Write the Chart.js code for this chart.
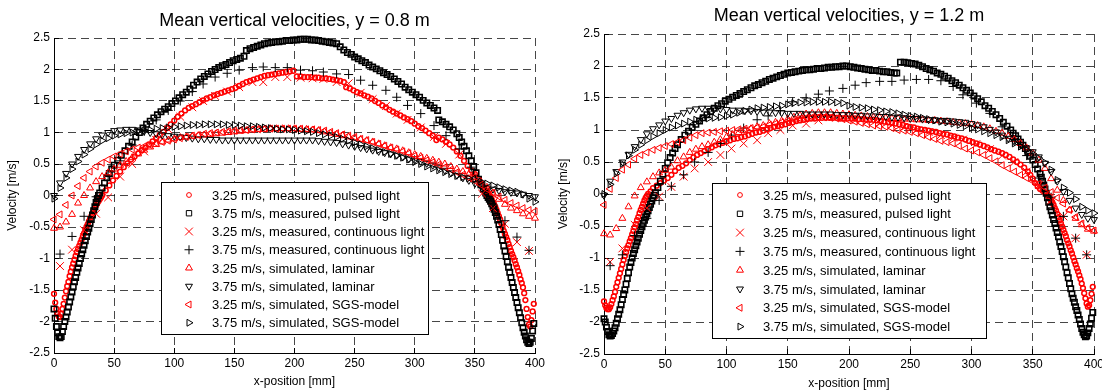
<!DOCTYPE html>
<html>
<head>
<meta charset="utf-8">
<title>Mean vertical velocities</title>
<script src="https://cdn.jsdelivr.net/npm/chart.js@4.4.1/dist/chart.umd.min.js"></script>
<style>
  html, body { margin: 0; padding: 0; background: #fff; }
  canvas { position: absolute; top: 0; }
  #left { left: 0; }
  #right { left: 550px; }
</style>
</head>
<body>
<canvas id="left" width="550" height="392"></canvas>
<canvas id="right" width="552" height="392"></canvas>
<script>
// ---- data: x-position [mm], velocity [m/s] ----

const titles = ['Mean vertical velocities, y = 0.8 m', 'Mean vertical velocities, y = 1.2 m'];
const seriesLabels = [
  '3.25 m/s, measured, pulsed light',
  '3.75 m/s, measured, pulsed light',
  '3.25 m/s, measured, continuous light',
  '3.75 m/s, measured, continuous light',
  '3.25 m/s, simulated, laminar',
  '3.75 m/s, simulated, laminar',
  '3.25 m/s, simulated, SGS-model',
  '3.75 m/s, simulated, SGS-model'
];
const xTickLabels = ['0', '50', '100', '150', '200', '250', '300', '350', '400'];
const yTickLabels = ['-2.5', '-2', '-1.5', '-1', '-0.5', '0', '0.5', '1', '1.5', '2', '2.5'];

// y = 0.8 m, pulsed light, 3.25 m/s
const pulsed325_08 = [[0,-1.56],[1,-1.7],[2,-1.8],[3,-1.88],[4,-1.92],[5,-1.93],[6,-1.88],[7,-1.8],[8,-1.72],[9,-1.62],
  [10,-1.52],[11,-1.44],[12,-1.37],[13,-1.28],[14,-1.21],[15,-1.14],[16,-1.08],[17,-1.02],[18,-0.96],[19,-0.9],
  [20,-0.85],[21,-0.8],[22,-0.75],[23,-0.7],[24,-0.65],[25,-0.6],[26,-0.55],[27,-0.5],[28,-0.46],[29,-0.41],
  [30,-0.37],[31,-0.33],[32,-0.29],[33,-0.24],[34,-0.2],[35,-0.16],[36,-0.12],[37,-0.09],[38,-0.06],[39,-0.03],[40,0],
  [43,0.08],[46,0.16],[49,0.24],[52,0.31],[55,0.38],[58,0.45],[61,0.51],[64,0.57],[67,0.62],[70,0.67],
  [73,0.72],[76,0.76],[79,0.81],[82,0.86],[85,0.91],[88,0.96],[91,1.01],[94,1.07],[97,1.13],[100,1.19],
  [103,1.25],[106,1.3],[109,1.35],[112,1.39],[115,1.42],[118,1.45],[121,1.48],[124,1.51],[127,1.54],[130,1.56],
  [133,1.59],[136,1.61],[139,1.63],[142,1.65],[145,1.67],[148,1.69],[151,1.71],[154,1.74],[157,1.77],[160,1.8],
  [163,1.82],[166,1.84],[169,1.86],[172,1.88],[175,1.9],[178,1.91],[181,1.92],[184,1.93],[187,1.94],[190,1.95],
  [193,1.96],[196,1.97],[199,1.98],[202,1.89],[205,1.89],[208,1.88],[211,1.88],[214,1.88],[217,1.87],[220,1.87],
  [223,1.86],[226,1.86],[229,1.85],[232,1.84],[235,1.83],[238,1.82],[241,1.8],[243,1.72],[246,1.7],[249,1.67],
  [252,1.64],[255,1.62],[258,1.59],[261,1.57],[264,1.54],[267,1.5],[270,1.47],[273,1.43],[276,1.4],[279,1.36],
  [282,1.33],[285,1.3],[288,1.27],[291,1.24],[294,1.21],[297,1.18],[300,1.14],[303,1.1],[306,1.07],[309,1.03],
  [312,0.99],[315,0.95],[318,0.88],[320,0.92],[323,0.89],[326,0.85],[329,0.81],[332,0.76],[335,0.7],[338,0.63],
  [341,0.55],[344,0.47],[347,0.4],[350,0.34],[353,0.26],[356,0.17],[358,0.12],[360,0.07],[361,0.04],[362,0.01],
  [363,-0.02],[364,-0.06],[365,-0.1],[366,-0.14],[367,-0.18],[368,-0.23],[369,-0.28],[370,-0.33],[371,-0.38],[372,-0.44],
  [373,-0.5],[374,-0.56],[375,-0.61],[376,-0.66],[377,-0.71],[378,-0.77],[379,-0.82],[380,-0.88],[381,-0.93],[382,-0.98],
  [383,-1.03],[384,-1.09],[385,-1.14],[386,-1.2],[387,-1.26],[388,-1.33],[389,-1.39],[390,-1.46],[391,-1.55],[392,-1.66],
  [393,-1.8],[394,-1.93],[395,-2.05],[396,-2.08],[397,-1.98],[398,-1.84],[399,-1.72]];

// y = 0.8 m, pulsed light, 3.75 m/s
const pulsed375_08 = [[0,-1.8],[1,-1.95],[2,-2.08],[3,-2.18],[4,-2.24],[5,-2.26],[6,-2.24],[7,-2.16],[8,-2.08],[9,-2],
  [10,-1.93],[11,-1.85],[12,-1.77],[13,-1.69],[14,-1.61],[15,-1.53],[16,-1.45],[17,-1.37],[18,-1.3],[19,-1.22],
  [20,-1.15],[21,-1.08],[22,-1],[23,-0.93],[24,-0.86],[25,-0.79],[26,-0.72],[27,-0.65],[28,-0.58],[29,-0.52],
  [30,-0.45],[31,-0.38],[32,-0.31],[33,-0.24],[34,-0.18],[35,-0.11],[36,-0.05],[37,0],[38,0.04],[40,0.12],
  [42,0.2],[44,0.28],[46,0.35],[48,0.42],[50,0.48],[53,0.56],[56,0.64],[59,0.71],[62,0.78],[65,0.85],
  [68,0.93],[71,1],[74,1.07],[77,1.13],[80,1.18],[83,1.23],[86,1.28],[89,1.33],[92,1.37],[95,1.41],
  [98,1.46],[101,1.5],[104,1.55],[107,1.6],[110,1.64],[113,1.69],[116,1.75],[119,1.8],[122,1.85],[125,1.89],
  [128,1.93],[131,1.97],[134,2],[137,2.03],[140,2.06],[143,2.08],[146,2.11],[149,2.14],[152,2.16],[155,2.18],
  [158,2.21],[160,2.3],[163,2.33],[166,2.35],[169,2.37],[172,2.39],[175,2.41],[178,2.42],[181,2.43],[184,2.44],
  [187,2.44],[190,2.45],[193,2.46],[196,2.46],[199,2.47],[202,2.47],[205,2.48],[208,2.48],[211,2.48],[214,2.47],
  [217,2.47],[220,2.46],[223,2.45],[226,2.44],[229,2.43],[232,2.42],[235,2.41],[238,2.36],[241,2.31],[244,2.27],
  [247,2.24],[250,2.2],[253,2.17],[256,2.14],[259,2.11],[262,2.07],[265,2.04],[268,2.01],[271,1.98],[274,1.95],
  [277,1.92],[280,1.89],[283,1.85],[286,1.81],[289,1.77],[292,1.72],[295,1.68],[298,1.64],[301,1.6],[304,1.56],
  [307,1.51],[310,1.47],[313,1.43],[316,1.39],[319,1.35],[320,1.2],[323,1.17],[326,1.13],[329,1.09],[332,1.04],
  [335,0.98],[337,0.92],[339,0.85],[341,0.78],[343,0.71],[345,0.63],[347,0.55],[349,0.46],[351,0.36],[353,0.26],
  [355,0.17],[357,0.1],[359,0.04],[360,0],[361,-0.03],[362,-0.06],[363,-0.09],[364,-0.13],[365,-0.17],[366,-0.22],
  [367,-0.27],[368,-0.33],[369,-0.39],[370,-0.46],[371,-0.54],[372,-0.62],[373,-0.71],[374,-0.8],[375,-0.88],[376,-0.97],
  [377,-1.05],[378,-1.14],[379,-1.22],[380,-1.3],[381,-1.38],[382,-1.46],[383,-1.54],[384,-1.62],[385,-1.7],[386,-1.78],
  [387,-1.86],[388,-1.94],[389,-2.02],[390,-2.1],[391,-2.17],[392,-2.23],[393,-2.29],[394,-2.33],[395,-2.35],[396,-2.33],
  [397,-2.27],[398,-2.15],[399,-2.03]];

// y = 0.8 m, continuous light (positions of the sparse markers)
const contX_08 = [5,15,25,35,45,55,65,75,85,95,105,115,124,134,144,154,165,174,184,194,
  205,215,224,235,245,255,265,276,285,294,305,316,326,337,347,356,365,375,385,395];
const cont325_08 = [-1.12,-0.86,-0.55,-0.29,-0.03,0.3,0.5,0.7,0.88,1.05,1.25,1.4,1.5,1.58,1.65,1.72,1.8,1.8,1.88,1.88,
  1.87,1.86,1.85,1.8,1.78,1.63,1.53,1.42,1.3,1.2,1.08,0.93,0.82,0.65,0.28,0.03,-0.2,-0.45,-0.74,-0.88];
const cont375_08 = [-0.93,-0.65,-0.33,-0.02,0.3,0.55,0.8,1.02,1.2,1.35,1.5,1.65,1.77,1.88,1.94,1.99,2.03,2.04,2.03,2.03,
  1.99,1.98,1.96,1.93,1.92,1.83,1.75,1.67,1.56,1.43,1.3,1.11,0.95,0.74,0.45,0.15,-0.15,-0.4,-0.66,-0.87];

// simulation output positions
const xSim = [0,5,10,15,20,25,30,35,40,45,50,55,60,65,70,75,80,85,90,95,100,105,110,115,120,125,130,135,140,145,
  150,155,160,165,170,175,180,185,190,195,200,205,210,215,220,225,230,235,240,245,250,255,260,265,270,275,280,285,290,295,
  300,305,310,315,320,325,330,335,340,345,350,355,360,365,370,375,380,385,390,395,400];

const lam325_08 = [-0.52,-0.5,-0.42,-0.3,-0.12,0,0.12,0.22,0.3,0.36,
  0.42,0.48,0.54,0.6,0.66,0.72,0.77,0.81,0.85,0.88,
  0.9,0.92,0.93,0.94,0.95,0.96,0.97,0.98,0.99,1,
  1.01,1.02,1.03,1.04,1.05,1.05,1.06,1.06,1.06,1.06,
  1.06,1.05,1.05,1.04,1.03,1.01,0.99,0.97,0.95,0.93,
  0.91,0.89,0.87,0.85,0.82,0.79,0.76,0.74,0.71,0.68,
  0.65,0.62,0.59,0.56,0.53,0.5,0.46,0.42,0.38,0.34,
  0.29,0.22,0.13,0.04,-0.06,-0.14,-0.2,-0.24,-0.29,-0.33,-0.36];
const lam375_08 = [0,0.2,0.35,0.5,0.62,0.73,0.82,0.9,0.96,1,
  1.03,1.04,1.05,1.05,1.04,1.02,1,0.98,0.96,0.95,
  0.94,0.93,0.92,0.91,0.9,0.9,0.89,0.89,0.88,0.88,
  0.88,0.88,0.88,0.88,0.88,0.88,0.88,0.88,0.88,0.88,
  0.88,0.88,0.88,0.88,0.87,0.86,0.85,0.84,0.82,0.8,
  0.78,0.76,0.74,0.72,0.7,0.68,0.66,0.64,0.61,0.58,
  0.56,0.54,0.51,0.48,0.44,0.4,0.36,0.32,0.28,0.24,
  0.19,0.15,0.12,0.1,0.08,0.06,0.05,0.04,0.02,0,-0.02];
const sgs325_08 = [-0.38,-0.3,-0.15,0,0.15,0.28,0.38,0.46,0.52,0.57,
  0.62,0.66,0.7,0.73,0.76,0.78,0.8,0.83,0.85,0.87,
  0.89,0.91,0.93,0.95,0.96,0.98,0.99,1,1.01,1.02,
  1.03,1.04,1.04,1.05,1.05,1.06,1.06,1.06,1.06,1.06,
  1.06,1.06,1.05,1.05,1.04,1.03,1.01,0.99,0.97,0.95,
  0.93,0.9,0.88,0.85,0.82,0.79,0.76,0.73,0.7,0.67,
  0.63,0.6,0.56,0.53,0.49,0.45,0.41,0.37,0.33,0.28,
  0.23,0.17,0.1,0.04,-0.02,-0.07,-0.12,-0.16,-0.2,-0.23,-0.25];
const sgs375_08 = [-0.05,0.12,0.28,0.42,0.54,0.65,0.74,0.81,0.87,0.91,
  0.95,0.97,0.99,1,1.02,1.03,1.04,1.06,1.07,1.08,
  1.09,1.1,1.11,1.12,1.12,1.13,1.13,1.13,1.13,1.12,
  1.12,1.11,1.1,1.1,1.09,1.08,1.07,1.06,1.05,1.05,
  1.04,1.03,1.02,1.01,0.99,0.97,0.95,0.93,0.9,0.87,
  0.84,0.81,0.78,0.75,0.72,0.69,0.66,0.63,0.6,0.57,
  0.53,0.5,0.46,0.43,0.4,0.37,0.34,0.31,0.29,0.27,
  0.25,0.22,0.19,0.16,0.13,0.1,0.08,0.06,0.02,-0.05,-0.1];

// y = 1.2 m, pulsed light, 3.25 m/s
const pulsed325_12 = [[0,-1.68],[1,-1.74],[2,-1.78],[3,-1.8],[4,-1.8],[5,-1.77],[6,-1.72],[7,-1.66],[8,-1.6],[9,-1.53],
  [10,-1.45],[11,-1.38],[12,-1.31],[13,-1.24],[14,-1.17],[15,-1.1],[16,-1.03],[17,-0.97],[18,-0.91],[19,-0.85],
  [20,-0.8],[21,-0.74],[22,-0.69],[23,-0.63],[24,-0.58],[25,-0.52],[26,-0.47],[27,-0.41],[28,-0.36],[29,-0.3],
  [30,-0.25],[31,-0.2],[32,-0.15],[33,-0.1],[34,-0.06],[35,-0.03],[36,0],[38,0.04],[40,0.09],[43,0.13],
  [46,0.17],[49,0.21],[52,0.25],[55,0.3],[58,0.36],[61,0.41],[64,0.44],[67,0.48],[70,0.53],[73,0.57],
  [76,0.61],[79,0.64],[82,0.67],[85,0.7],[88,0.73],[91,0.76],[94,0.78],[97,0.8],[100,0.82],[103,0.84],
  [106,0.86],[109,0.87],[112,0.89],[115,0.9],[118,0.92],[121,0.94],[124,0.96],[127,0.97],[130,0.99],[133,1.01],
  [136,1.03],[139,1.05],[142,1.06],[145,1.08],[148,1.09],[151,1.11],[154,1.12],[157,1.14],[160,1.15],[163,1.16],
  [166,1.17],[169,1.18],[172,1.18],[175,1.19],[178,1.19],[181,1.19],[184,1.19],[187,1.19],[190,1.19],[193,1.18],
  [196,1.18],[199,1.18],[202,1.18],[205,1.18],[208,1.17],[211,1.17],[214,1.16],[217,1.16],[220,1.16],[223,1.15],
  [226,1.14],[229,1.13],[232,1.12],[235,1.11],[238,1.1],[241,1.09],[244,1.08],[247,1.06],[250,1.05],[253,1.04],
  [256,1.02],[259,1.01],[262,1],[265,0.99],[268,0.98],[271,0.97],[274,0.95],[277,0.94],[280,0.93],[283,0.91],
  [286,0.9],[289,0.88],[292,0.87],[295,0.85],[298,0.83],[301,0.81],[304,0.79],[307,0.77],[310,0.75],[313,0.73],
  [316,0.7],[319,0.68],[322,0.66],[325,0.64],[328,0.61],[331,0.58],[334,0.54],[337,0.5],[340,0.46],[343,0.41],
  [346,0.35],[348,0.3],[350,0.24],[352,0.17],[354,0.12],[356,0.08],[358,0.05],[360,0.02],[361,0],[362,-0.02],
  [363,-0.04],[364,-0.07],[365,-0.1],[366,-0.13],[367,-0.17],[368,-0.22],[369,-0.26],[370,-0.31],[371,-0.36],[372,-0.41],
  [373,-0.46],[374,-0.51],[375,-0.56],[376,-0.61],[377,-0.66],[378,-0.72],[379,-0.77],[380,-0.82],[381,-0.88],[382,-0.93],
  [383,-0.99],[384,-1.05],[385,-1.1],[386,-1.16],[387,-1.21],[388,-1.27],[389,-1.33],[390,-1.4],[391,-1.47],[392,-1.55],
  [393,-1.63],[394,-1.71],[395,-1.76],[396,-1.74],[397,-1.66],[398,-1.56],[399,-1.45]];

// y = 1.2 m, pulsed light, 3.75 m/s
const pulsed375_12 = [[0,-1.95],[1,-2],[2,-2.08],[3,-2.15],[4,-2.2],[5,-2.22],[6,-2.21],[7,-2.18],[8,-2.14],[9,-2.09],
  [10,-2.02],[11,-1.95],[12,-1.88],[13,-1.81],[14,-1.73],[15,-1.65],[16,-1.57],[17,-1.5],[18,-1.41],[19,-1.32],
  [20,-1.23],[21,-1.14],[22,-1.07],[23,-1],[24,-0.93],[25,-0.87],[26,-0.81],[27,-0.75],[28,-0.69],[29,-0.63],
  [30,-0.57],[31,-0.51],[32,-0.46],[33,-0.41],[34,-0.36],[35,-0.31],[36,-0.26],[37,-0.21],[38,-0.16],[39,-0.11],
  [40,-0.06],[41,-0.02],[42,0.02],[44,0.1],[46,0.2],[48,0.31],[50,0.4],[52,0.49],[54,0.57],[56,0.64],
  [58,0.71],[60,0.77],[63,0.85],[66,0.92],[69,0.98],[72,1.04],[75,1.09],[78,1.14],[81,1.19],[84,1.24],
  [87,1.29],[90,1.34],[93,1.38],[96,1.41],[99,1.45],[102,1.48],[105,1.51],[108,1.54],[111,1.57],[114,1.6],
  [117,1.63],[120,1.66],[123,1.69],[126,1.71],[129,1.74],[132,1.76],[135,1.79],[138,1.81],[141,1.83],[144,1.85],
  [147,1.87],[150,1.89],[153,1.9],[156,1.91],[159,1.92],[162,1.93],[165,1.94],[168,1.94],[171,1.95],[174,1.96],
  [177,1.96],[180,1.97],[183,1.98],[186,1.98],[189,1.99],[192,1.99],[195,2],[198,2],[201,1.99],[204,1.98],
  [207,1.97],[210,1.96],[213,1.95],[216,1.94],[219,1.93],[222,1.93],[225,1.92],[228,1.91],[231,1.91],[234,1.9],
  [237,1.89],[239,1.89],[242,2.06],[245,2.06],[248,2.05],[251,2.04],[254,2.03],[257,2.01],[260,1.99],[263,1.96],
  [266,1.94],[269,1.92],[272,1.89],[275,1.87],[278,1.84],[281,1.81],[284,1.77],[287,1.74],[290,1.7],[293,1.66],
  [296,1.62],[299,1.58],[302,1.53],[305,1.49],[308,1.44],[311,1.38],[314,1.34],[317,1.29],[320,1.24],[323,1.18],
  [326,1.12],[329,1.06],[332,1],[334,0.95],[336,0.91],[338,0.86],[340,0.81],[342,0.76],[344,0.71],[346,0.65],
  [348,0.59],[350,0.53],[352,0.46],[354,0.39],[356,0.32],[357,0.26],[358,0.2],[359,0.14],[360,0.08],[361,0.01],
  [362,-0.06],[363,-0.13],[364,-0.2],[365,-0.26],[366,-0.33],[367,-0.4],[368,-0.46],[369,-0.53],[370,-0.6],[371,-0.67],
  [372,-0.75],[373,-0.82],[374,-0.9],[375,-0.98],[376,-1.06],[377,-1.14],[378,-1.23],[379,-1.31],[380,-1.4],[381,-1.48],
  [382,-1.56],[383,-1.63],[384,-1.69],[385,-1.76],[386,-1.82],[387,-1.89],[388,-1.96],[389,-2.03],[390,-2.1],[391,-2.16],
  [392,-2.2],[393,-2.23],[394,-2.22],[395,-2.17],[396,-2.1],[397,-2.03],[398,-1.94],[399,-1.85]];

// y = 1.2 m, continuous light
const contX_12 = [5,15,25,35,45,55,65,74,85,95,104,114,125,134,144,154,165,175,184,195,
  205,214,225,235,245,255,265,275,285,293,304,315,325,335,345,355,365,375,385,394];
const cont325_12 = [-1.06,-0.85,-0.48,-0.22,-0.04,0.11,0.27,0.4,0.5,0.61,0.71,0.79,0.84,0.95,1,1.07,1.1,1.15,1.2,1.2,
  1.15,1.13,1.1,1.08,1.05,1,0.97,0.92,0.88,0.85,0.78,0.7,0.6,0.5,0.35,0.14,-0.1,-0.35,-0.69,-0.95];
const cont375_12 = [-1.12,-0.95,-0.65,-0.38,-0.1,0.12,0.3,0.5,0.65,0.79,0.92,1.03,1.16,1.22,1.3,1.44,1.5,1.56,1.61,1.65,
  1.7,1.74,1.76,1.76,1.78,1.79,1.79,1.77,1.68,1.55,1.42,1.26,1.05,0.85,0.6,0.25,-0.05,-0.35,-0.69,-0.95];

const lam325_12 = [-0.62,-0.64,-0.54,-0.38,-0.2,-0.03,0.1,0.19,0.27,0.33,
  0.37,0.42,0.52,0.58,0.65,0.7,0.74,0.77,0.81,0.85,
  0.89,0.93,0.96,0.99,1.02,1.05,1.07,1.1,1.12,1.14,
  1.17,1.2,1.23,1.25,1.26,1.27,1.27,1.27,1.26,1.25,
  1.24,1.23,1.22,1.21,1.2,1.2,1.19,1.18,1.18,1.17,
  1.17,1.16,1.16,1.15,1.15,1.14,1.13,1.12,1.11,1.1,
  1.09,1.07,1.05,1.02,0.98,0.95,0.9,0.85,0.79,0.72,
  0.64,0.53,0.4,0.24,0.06,-0.1,-0.25,-0.38,-0.48,-0.55,-0.58];
const lam375_12 = [-0.02,0.2,0.35,0.5,0.62,0.74,0.85,0.94,1.02,1.08,
  1.14,1.18,1.23,1.27,1.31,1.33,1.34,1.34,1.33,1.33,
  1.32,1.31,1.31,1.3,1.3,1.29,1.28,1.28,1.27,1.27,
  1.26,1.26,1.26,1.25,1.25,1.25,1.25,1.25,1.24,1.24,
  1.24,1.23,1.23,1.22,1.22,1.21,1.21,1.2,1.2,1.19,
  1.18,1.18,1.17,1.16,1.16,1.15,1.15,1.14,1.13,1.12,
  1.1,1.08,1.05,1.01,0.97,0.92,0.87,0.82,0.77,0.72,
  0.66,0.58,0.48,0.35,0.2,0.04,-0.1,-0.22,-0.32,-0.38,-0.4];
const sgs325_12 = [-0.17,0.08,0.25,0.38,0.46,0.55,0.61,0.65,0.69,0.72,
  0.75,0.78,0.81,0.84,0.88,0.92,0.95,0.96,0.97,0.98,
  0.99,1,1.01,1.02,1.03,1.04,1.05,1.08,1.1,1.12,
  1.14,1.16,1.18,1.19,1.2,1.2,1.2,1.19,1.18,1.17,
  1.15,1.13,1.11,1.09,1.07,1.06,1.05,1.03,1,0.99,
  0.97,0.95,0.92,0.89,0.86,0.83,0.81,0.79,0.75,0.71,
  0.68,0.65,0.61,0.56,0.51,0.45,0.4,0.35,0.3,0.25,
  0.2,0.16,0.1,0.03,-0.06,-0.15,-0.25,-0.36,-0.46,-0.53,-0.57];
const sgs375_12 = [0,0.15,0.32,0.47,0.6,0.69,0.77,0.84,0.9,0.95,
  1,1.04,1.07,1.1,1.13,1.16,1.17,1.18,1.19,1.2,
  1.22,1.24,1.27,1.3,1.32,1.34,1.35,1.36,1.37,1.38,
  1.4,1.42,1.43,1.43,1.44,1.44,1.44,1.44,1.43,1.42,
  1.38,1.36,1.35,1.34,1.32,1.31,1.29,1.28,1.26,1.24,
  1.22,1.21,1.19,1.17,1.15,1.13,1.12,1.1,1.08,1.06,
  1.03,1.01,0.98,0.95,0.92,0.89,0.84,0.79,0.74,0.69,
  0.63,0.56,0.49,0.38,0.22,0.1,0.02,-0.08,-0.2,-0.26,-0.3];

// ---- chart setup ----
Chart.defaults.font.family = '"Liberation Sans", Arial, Helvetica, sans-serif';
Chart.defaults.color = '#000';

// marker look per series (MATLAB-like open markers); pulsed-light series are drawn bolder
const marks = [
  { color: '#ff0000', style: 'circle', radius: 2.4, rotation: 0, width: 1.5 },
  { color: '#000000', style: 'rect', radius: 3.8, rotation: 0, width: 1.6 },
  { color: '#ff0000', style: 'crossRot', radius: 5.5, rotation: 0, width: 1 },
  { color: '#000000', style: 'cross', radius: 4.5, rotation: 0, width: 1 },
  { color: '#ff0000', style: 'triangle', radius: 4, rotation: 0, width: 1 },
  { color: '#000000', style: 'triangle', radius: 4, rotation: 180, width: 1 },
  { color: '#ff0000', style: 'triangle', radius: 4, rotation: 270, width: 1 },
  { color: '#000000', style: 'triangle', radius: 4, rotation: 90, width: 1 }
];

const pairs = (list) => list.map(p => ({ x: p[0], y: p[1] }));
const zip = (xs, ys) => xs.map((x, i) => ({ x: x, y: ys[i] }));

function makeDatasets(series) {
  return series.map((data, i) => ({
    label: seriesLabels[i],
    data: data,
    showLine: false,
    pointStyle: marks[i].style,
    pointRadius: marks[i].radius,
    pointHoverRadius: marks[i].radius,
    pointRotation: marks[i].rotation,
    pointBorderColor: marks[i].color,
    pointBackgroundColor: 'rgba(0,0,0,0)',
    pointBorderWidth: marks[i].width,
    order: series.length - i,
    clip: false
  }));
}

// legend drawn as an opaque box inside the plot, like the original figure
const boxLegend = {
  id: 'boxLegend',
  afterDraw(chart, args, opts) {
    const ctx = chart.ctx;
    ctx.save();
    ctx.fillStyle = '#fff';
    ctx.fillRect(opts.x, opts.y, opts.w, opts.h);
    ctx.strokeStyle = '#000';
    ctx.lineWidth = 1;
    ctx.strokeRect(opts.x + 0.5, opts.y + 0.5, opts.w, opts.h);
    ctx.font = '13px "Liberation Sans", Arial, sans-serif';
    ctx.textBaseline = 'middle';
    chart.data.datasets.forEach((ds, i) => {
      const cy = opts.y + opts.first + i * opts.step;
      ctx.strokeStyle = ds.pointBorderColor;
      ctx.fillStyle = 'rgba(0,0,0,0)';
      ctx.lineWidth = 1;
      Chart.helpers.drawPoint(ctx, {
        pointStyle: ds.pointStyle, radius: ds.pointRadius, rotation: ds.pointRotation, borderWidth: 1
      }, opts.x + opts.mx, cy);
      ctx.fillStyle = '#000';
      ctx.fillText(ds.label, opts.x + opts.tx, cy + 1);
    });
    ctx.restore();
  }
};

function makeOptions(cfg) {
  const grid = {
    color: 'rgba(0,0,0,0.72)', lineWidth: 1,
    drawTicks: true, tickLength: -5, tickColor: '#000', tickWidth: 1, tickBorderDash: []
  };
  const border = { display: true, color: '#000', width: 1, dash: [8, 5] };
  return {
    responsive: false,
    animation: false,
    events: [],
    layout: { padding: { left: 0, right: cfg.padRight, top: 0, bottom: 0 } },
    plugins: {
      legend: { display: false },
      tooltip: { enabled: false },
      title: {
        display: true, text: cfg.title, fullSize: false, color: '#000',
        font: { size: 18, weight: 'normal' },
        padding: { top: cfg.titleTop, bottom: cfg.titleBottom }
      },
      boxLegend: cfg.legend
    },
    scales: {
      x: {
        type: 'linear', min: 0, max: 400,
        ticks: { stepSize: 50, color: '#000', font: { size: 12 }, padding: 8.5, maxRotation: 0, autoSkip: false,
                 callback: (value, index) => xTickLabels[index] },
        grid: grid, border: border,
        title: { display: true, text: 'x-position [mm]', color: '#000', font: { size: 12 },
                 padding: { top: 0, bottom: cfg.xTitlePad } },
        afterFit(scale) { scale.height = cfg.xAxisH; scale.paddingLeft = 0; scale.paddingRight = 0; }
      },
      y: {
        type: 'linear', min: -2.5, max: 2.5,
        ticks: { stepSize: 0.5, color: '#000', font: { size: 12 }, padding: 9,
                 callback: (value, index) => yTickLabels[index] },
        grid: grid, border: border,
        title: { display: true, text: 'Velocity [m/s]', color: '#000', font: { size: 12 },
                 padding: { top: cfg.yTitlePad, bottom: 0 } },
        afterFit(scale) { scale.width = 54; scale.paddingTop = 0; scale.paddingBottom = 0; }
      }
    }
  };
}

new Chart(document.getElementById('left'), {
  type: 'scatter',
  data: {
    datasets: makeDatasets([
      pairs(pulsed325_08), pairs(pulsed375_08),
      zip(contX_08, cont325_08), zip(contX_08, cont375_08),
      zip(xSim, lam325_08), zip(xSim, lam375_08),
      zip(xSim, sgs325_08), zip(xSim, sgs375_08)
    ])
  },
  options: makeOptions({
    title: titles[0], padRight: 15, titleTop: 10.2, titleBottom: 6.2,
    xAxisH: 39, xTitlePad: 2.8, yTitlePad: 5.8,
    legend: { x: 161, y: 182, w: 267, h: 152, first: 13, step: 18.25, mx: 28, tx: 51 }
  }),
  plugins: [boxLegend]
});

new Chart(document.getElementById('right'), {
  type: 'scatter',
  data: {
    datasets: makeDatasets([
      pairs(pulsed325_12), pairs(pulsed375_12),
      zip(contX_12, cont325_12), zip(contX_12, cont375_12),
      zip(xSim, lam325_12), zip(xSim, lam375_12),
      zip(xSim, sgs325_12), zip(xSim, sgs375_12)
    ])
  },
  options: makeOptions({
    title: titles[1], padRight: 8, titleTop: 5.2, titleBottom: 7.2,
    xAxisH: 38, xTitlePad: 1.5, yTitlePad: 6.1,
    legend: { x: 162, y: 183, w: 274, h: 155, first: 12, step: 18.8, mx: 28, tx: 51 }
  }),
  plugins: [boxLegend]
});
</script>
</body>
</html>
